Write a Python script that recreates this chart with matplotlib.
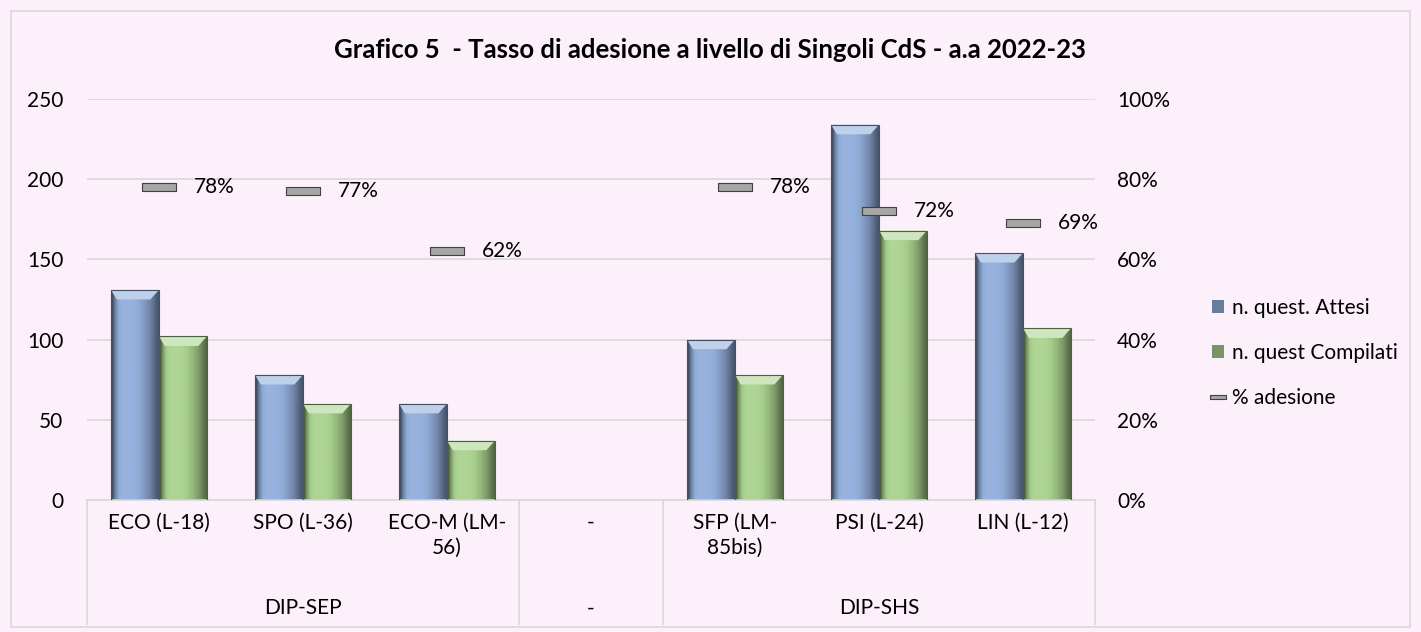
import numpy as np
import matplotlib
matplotlib.use('Agg')
import matplotlib.pyplot as plt
from matplotlib.path import Path
from matplotlib.patches import Polygon, Rectangle
from matplotlib.lines import Line2D
from matplotlib.ticker import PercentFormatter
import matplotlib.transforms as mtransforms
from matplotlib.colors import to_rgb

plt.rcParams['font.family'] = ['Lato', 'DejaVu Sans']

# ── Data ──────────────────────────────────────────────────────────────────────
courses   = ['ECO (L-18)', 'SPO (L-36)', 'ECO-M (LM-\n56)', '-',
             'SFP (LM-\n85bis)', 'PSI (L-24)', 'LIN (L-12)']
groups    = ['DIP-SEP', '-', 'DIP-SHS']
group_len = [3, 1, 3]
attesi    = [131, 78, 60, 0, 100, 234, 154]
compilati = [102, 60, 37, 0, 78, 168, 107]
adesione  = [0.78, 0.77, 0.62, np.nan, 0.78, 0.72, 0.69]

BG    = '#FCF0FA'
GRID  = '#D9D9D9'
BLUE  = '#95B1DE'
GREEN = '#ADD592'
GRAY  = '#A6A6A6'
FS    = 15

fig = plt.figure(figsize=(14.21, 6.32), dpi=100, facecolor=BG)
ax  = fig.add_axes([0.0612, 0.2089, 0.7094, 0.6345], facecolor=BG)

x = np.arange(len(courses))
w = 0.333


def shade(c, f):
    r = np.array(to_rgb(c))
    return np.clip(r * f, 0, 1) if f < 1 else np.clip(r + (1 - r) * (f - 1), 0, 1)


def bevel_bars(bars, color):
    # fake the excel 3D bevel: horizontal gradient + light top bevel
    prof = np.array([0.45, 0.75, 0.95, 1.0, 1.02, 1.02, 1.0, 1.0, 0.98, 0.95,
                     0.9, 0.85, 0.78, 0.7, 0.6, 0.5])
    img = np.array([[shade(color, f) for f in prof]])
    for b in bars:
        x0, bw, h = b.get_x(), b.get_width(), b.get_height()
        if h <= 0:
            continue
        im = ax.imshow(img, extent=[x0, x0 + bw, 0, h], aspect='auto',
                       interpolation='bilinear', zorder=2)
        im.set_clip_path(b)
        bev = 6
        top = Polygon([(x0, h), (x0 + bw, h), (x0 + bw * 0.82, h - bev),
                       (x0 + bw * 0.12, h - bev)], closed=True,
                      facecolor=shade(color, 1.4), edgecolor='none', zorder=3)
        ax.add_patch(top)
        ax.add_patch(Rectangle((x0, 0), bw, h, facecolor='none',
                               edgecolor=shade(color, 0.45), lw=0.8, zorder=4))


b1 = ax.bar(x - w / 2, attesi, w, color=BLUE, zorder=1, label='n. quest. Attesi')
b2 = ax.bar(x + w / 2, compilati, w, color=GREEN, zorder=1, label='n. quest Compilati')
bevel_bars(b1, BLUE)
bevel_bars(b2, GREEN)

ax.set_xlim(-0.5, len(courses) - 0.5)
ax.set_ylim(0, 250)
ax.set_yticks(np.arange(0, 251, 50))
ax.yaxis.grid(True, color=GRID, lw=1.2)
ax.set_axisbelow(True)
for s in ['top', 'left', 'right']:
    ax.spines[s].set_visible(False)
ax.spines['bottom'].set_color(GRID)
ax.spines['bottom'].set_linewidth(1.2)
ax.tick_params(axis='y', length=0, pad=17, labelsize=FS)
ax.set_xticks(x)
ax.set_xticklabels(courses, fontsize=FS, linespacing=1.35)
ax.tick_params(axis='x', length=0, pad=9)

# category axis separators + group labels
trans = mtransforms.blended_transform_factory(ax.transData, ax.transAxes)
bounds = np.concatenate([[0], np.cumsum(group_len)]) - 0.5
for bx in bounds:
    ax.plot([bx, bx], [0, -0.31], transform=trans, color=GRID, lw=1.2,
            clip_on=False)
for g, lo, hi in zip(groups, bounds[:-1], bounds[1:]):
    ax.text((lo + hi) / 2, -0.27, g, transform=trans, ha='center',
            va='center', fontsize=FS)

# secondary axis with % adesione
ax2 = ax.twinx()
ax2.set_ylim(0, 1)
ax2.set_yticks(np.arange(0, 1.01, 0.2))
ax2.yaxis.set_major_formatter(PercentFormatter(1.0, decimals=0))
ax2.tick_params(axis='y', length=0, pad=16, labelsize=FS)
for s in ax2.spines.values():
    s.set_visible(False)

dash = Path([(-1, -0.23), (1, -0.23), (1, 0.23), (-1, 0.23), (-1, -0.23)],
            [Path.MOVETO, Path.LINETO, Path.LINETO, Path.LINETO, Path.CLOSEPOLY])
ax2.plot(x, adesione, ls='none', marker=dash, ms=25, mfc=GRAY, mec='#404040',
         mew=0.8, zorder=5)
for xi, p in zip(x, adesione):
    if np.isnan(p):
        continue
    ax2.annotate(f'{p:.0%}', (xi, p), xytext=(25, 0), textcoords='offset points',
                 ha='left', va='center', fontsize=FS)

fig.text(0.5, 1 - 58 / 632, 'Grafico 5  - Tasso di adesione a livello di Singoli CdS - a.a 2022-23',
         ha='center', va='baseline', fontsize=18.5, fontweight='bold')

handles = [
    Rectangle((0, 0), 1, 1, facecolor=shade(BLUE, 0.7), edgecolor='none'),
    Rectangle((0, 0), 1, 1, facecolor=shade(GREEN, 0.7), edgecolor='none'),
    Line2D([], [], ls='none', marker=dash, ms=11, mfc=GRAY, mec='#404040', mew=0.8),
]
fig.legend(handles, ['n. quest. Attesi', 'n. quest Compilati', '% adesione'],
           loc='center left', bbox_to_anchor=(1193 / 1421, 1 - 353 / 632),
           frameon=False, fontsize=FS, handlelength=0.6, handleheight=0.6,
           handletextpad=0.35, labelspacing=1.2)

fig.patches.append(Rectangle((11 / 1421, 5 / 632), 1399 / 1421, 616 / 632,
                             transform=fig.transFigure, facecolor='none',
                             edgecolor=GRID, lw=1.2))

fig.savefig('out.png', dpi=100, facecolor=BG)
